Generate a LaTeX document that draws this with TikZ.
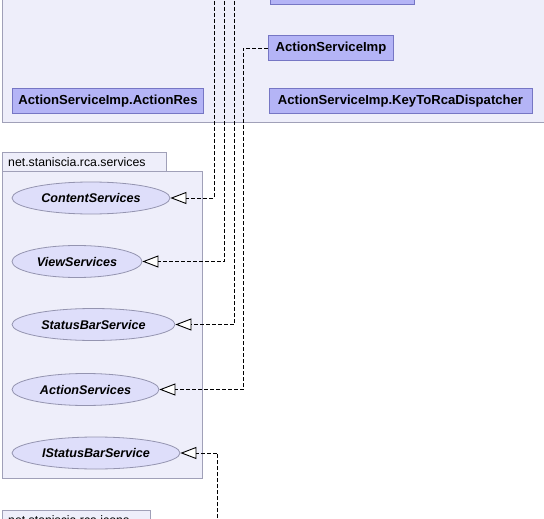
\documentclass[tikz,border=0pt]{standalone}
\usepackage{fontspec}
\setmainfont{Liberation Sans}
\usepackage{tikz}
\usetikzlibrary{ arrows.meta, % For the open triangle tips
                 shapes,      % For elipse and so
               }

\definecolor{pkgfill}{RGB}{238,238,250}
\definecolor{pkgline}{RGB}{160,160,184}
\definecolor{clsfill}{RGB}{180,180,246}
\definecolor{clsline}{RGB}{118,118,196}
\definecolor{ifcfill}{RGB}{222,222,250}
\definecolor{ifcline}{RGB}{148,148,176}

\tikzset{
  pkg/.style={draw=pkgline, fill=pkgfill, line width=1pt},
  pkglabel/.style={anchor=base west, inner sep=0pt, font=\fontsize{12.3}{14}\selectfont},
  cls/.style={draw=clsline, fill=clsfill, line width=1pt, inner sep=0pt,
              minimum height=25pt, font=\fontsize{13.1}{15}\selectfont\bfseries},
  ifc/.style={ellipse, draw=ifcline, fill=ifcfill, line width=0.8pt, inner sep=0pt,
              minimum height=32pt, font=\fontsize{12.6}{14}\selectfont\bfseries\itshape},
  realize/.style={draw, line width=0.9pt, dash pattern=on 4pt off 2pt,
                  -{Triangle[open, length=16pt, width=12pt, fill=white]}},
}

\begin{document}
\begin{tikzpicture}[x=1pt, y=-1pt]
    \clip (0,0) rectangle (544,519);

    % net.staniscia.rca package
    \draw[pkg] (2,-20) rectangle (560,122);
    \node[cls, minimum width=144pt] (barimp) at (342,-7.5) {StatusBarServiceImp};
    \node[cls, minimum width=125pt] (actimp) at (331,48) {ActionServiceImp};
    \node[cls, minimum width=191pt] (actres) at (108,101) {ActionServiceImp.ActionRes};
    \node[cls, minimum width=263pt] (keydisp) at (400.5,101) {ActionServiceImp.KeyToRcaDispatcher};

    % net.staniscia.rca.services package
    \draw[pkg] (2,152) rectangle (166,171);
    \node[pkglabel] (svclabel) at (8,166) {net.staniscia.rca.services};
    \draw[pkg] (2,171) rectangle (202,478);
    \node[ifc, minimum width=158pt] (content) at (91,198) {ContentServices};
    \node[ifc, minimum width=130pt] (view) at (77,261.5) {ViewServices};
    \node[ifc, minimum width=163pt] (statusbar) at (93.5,324.5) {StatusBarService};
    \node[ifc, minimum width=147pt] (actions) at (85.5,389.5) {ActionServices};
    \node[ifc, minimum width=168pt] (istatus) at (96,453) {IStatusBarService};

    % net.staniscia.rca.icons package
    \draw[pkg] (2,510) rectangle (150,540);
    \node[pkglabel] (iconlabel) at (8,524) {net.staniscia.rca.icons};

    % realizations
    \coordinate (up1) at (214,-5);
    \coordinate (up2) at (224,-5);
    \coordinate (up3) at (234,-5);
    \coordinate (down1) at (217.5,530);
    \draw[realize] (up1) |- (content.east);
    \draw[realize] (up2) |- (view.east);
    \draw[realize] (up3) |- (statusbar.east);
    \draw[realize] (actimp.west) -- ++(-25,0) |- (actions.east);
    \draw[realize] (down1) |- (istatus.east);
  \end{tikzpicture}
\end{document}
